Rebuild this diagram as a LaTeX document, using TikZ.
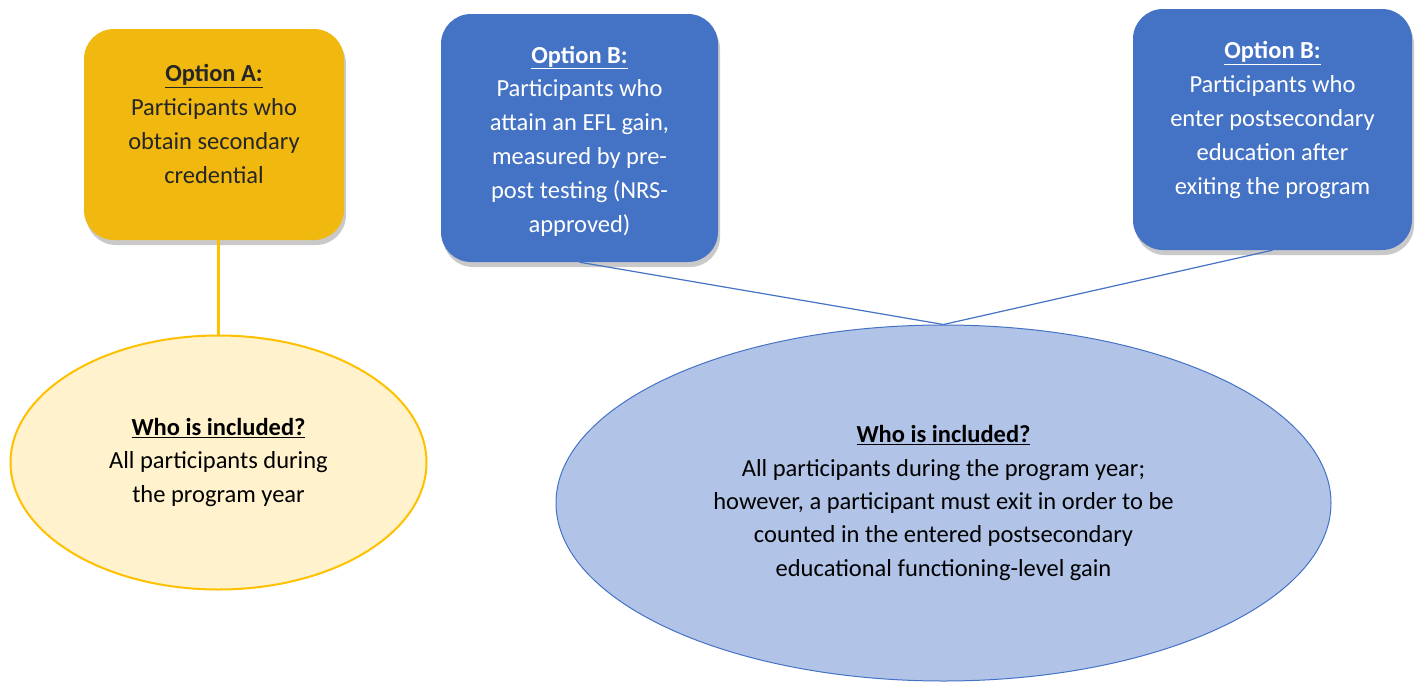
\documentclass[tikz,border=0pt]{standalone}
\usepackage{fontspec}
\setmainfont{Carlito}
\usetikzlibrary{shapes.geometric,shadows,calc}
\definecolor{gold}{HTML}{F1B910}
\definecolor{goldline}{HTML}{FFC000}
\definecolor{cream}{HTML}{FFF2CC}
\definecolor{bluebox}{HTML}{4472C4}
\definecolor{lightblue}{HTML}{B1C4E8}
\definecolor{darktext}{HTML}{262626}
\tikzset{
  optbox/.style={rounded corners=30pt, inner sep=0pt,
    drop shadow={shadow xshift=2pt, shadow yshift=-5pt, opacity=0.3, fill=black!70}},
  boxtext/.style={align=center, font=\fontsize{24.5}{33.8}\selectfont, inner sep=0pt},
  ovaltext/.style={align=center, font=\fontsize{24.5}{33.3}\selectfont, inner sep=0pt},
}
\begin{document}
\begin{tikzpicture}[x=1pt,y=-1pt]
\useasboundingbox (0,0) rectangle (1417,683);
% boxes
\node[optbox, fill=gold, minimum width=260pt, minimum height=211pt] (boxA) at (214,134.5) {};
\node[optbox, fill=bluebox, minimum width=277pt, minimum height=248pt] (boxB1) at (579.5,138) {};
\node[optbox, fill=bluebox, minimum width=279pt, minimum height=241pt] (boxB2) at (1272.5,129.5) {};
\node[boxtext, text=darktext] (txtA) at (214,124) {\underline{\textbf{Option A:}}\\Participants who\\obtain secondary\\credential};
\node[boxtext, text=white] (txtB1) at (579.5,141) {\underline{\textbf{Option B:}}\\Participants who\\attain an EFL gain,\\measured by pre-\\post testing (NRS-\\approved)};
\node[boxtext, text=white] (txtB2) at (1272.5,120) {\underline{\textbf{Option B:}}\\Participants who\\enter postsecondary\\education after\\exiting the program};
% ellipses
\node[ellipse, draw=goldline, line width=2pt, fill=cream, minimum width=416pt, minimum height=254pt, inner sep=0pt, ovaltext] (ellA) at (218.5,462.5)
  {\underline{\textbf{Who is included?}}\\All participants during\\the program year};
\node[ellipse, draw=bluebox, line width=1pt, fill=lightblue, minimum width=775pt, minimum height=356pt, inner sep=0pt, ovaltext] (ellB) at (943.5,503)
  {\underline{\textbf{Who is included?}}\\All participants during the program year;\\however, a participant must exit in order to be\\counted in the entered postsecondary\\educational functioning-level gain};
% connectors
\draw[goldline, line width=2.5pt] (boxA.south -| ellA.north) -- (ellA.north);
\draw[bluebox, line width=1.2pt] (boxB1.south) -- (ellB.north);
\draw[bluebox, line width=1.2pt] (boxB2.south) -- (ellB.north);
\end{tikzpicture}
\end{document}
